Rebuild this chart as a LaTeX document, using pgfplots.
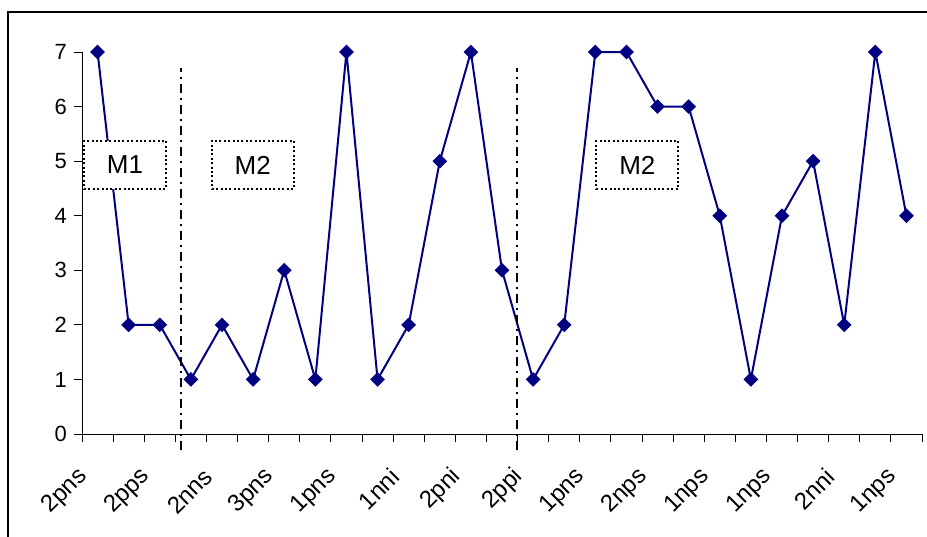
\documentclass[border=0pt]{standalone}
\usepackage{pgfplots}
\pgfplotsset{compat=1.18}
\usepackage{fontspec}
\setmainfont{Liberation Sans}
\definecolor{navy}{RGB}{0,0,128}
\begin{document}
\begin{tikzpicture}[x=1pt,y=1pt]
\begin{axis}[
  at={(0,0)}, anchor=south west,
  scale only axis, width=420pt, height=191pt,
  xmin=-0.5, xmax=26.5, ymin=0, ymax=7,
  axis x line*=bottom, axis y line*=left,
  axis line style={-, line width=0.5pt, black},
  xtick={0,2,...,26},
  xticklabels={2pns,2pps,2nns,3pns,1pns,1nni,2pni,2ppi,1pns,2nps,1nps,1nps,2nni,1nps},
  minor xtick={-0.5,0.5,...,26.5},
  major x tick style={draw=none},
  ytick={0,1,...,7},
  tick align=outside,
  tick style={black, line width=0.5pt},
  major tick length=4pt, minor tick length=4pt,
  x tick label style={xshift=-4.5pt, yshift=-13pt, rotate=45, anchor=east, font=\fontsize{12}{14}\selectfont},
  y tick label style={font=\fontsize{11}{13}\selectfont},
  /pgf/number format/assume math mode=true,
  clip=false,
]
\addplot[navy, line width=1pt, mark=square*, mark size=2.1pt, mark options={rotate=45, fill=navy, draw=navy}]
coordinates {
(0,7) (1,2) (2,2) (3,1) (4,2) (5,1) (6,3) (7,1) (8,7) (9,1) (10,2) (11,5) (12,7) (13,3)
(14,1) (15,2) (16,7) (17,7) (18,6) (19,6) (20,4) (21,1) (22,4) (23,5) (24,2) (25,7) (26,4)
};
\addplot[black, line width=1pt, dash pattern=on 4.5pt off 2.5pt on 1pt off 2.5pt] coordinates {(2.67,-0.3) (2.67,6.7)};
\addplot[black, line width=1pt, dash pattern=on 4.5pt off 2.5pt on 1pt off 2.5pt] coordinates {(13.49,-0.3) (13.49,6.7)};
\node[draw=black, line width=1pt, dash pattern=on 1pt off 1.2pt, fill=white, minimum width=41pt, minimum height=24pt, inner sep=0pt, font=\fontsize{13}{15}\selectfont] at (axis cs:0.88,4.93) {M1};
\node[draw=black, line width=1pt, dash pattern=on 1pt off 1.2pt, fill=white, minimum width=41pt, minimum height=24pt, inner sep=0pt, font=\fontsize{13}{15}\selectfont] at (axis cs:4.99,4.93) {M2};
\node[draw=black, line width=1pt, dash pattern=on 1pt off 1.2pt, fill=white, minimum width=41pt, minimum height=24pt, inner sep=0pt, font=\fontsize{13}{15}\selectfont] at (axis cs:17.35,4.93) {M2};
\end{axis}
\draw[line width=1.1pt, black] (-37,-60) -- (-37,211) -- (430,211);
\pgfresetboundingbox
\path[use as bounding box] (-41,-51) rectangle (422.5,217);
\end{tikzpicture}
\end{document}
